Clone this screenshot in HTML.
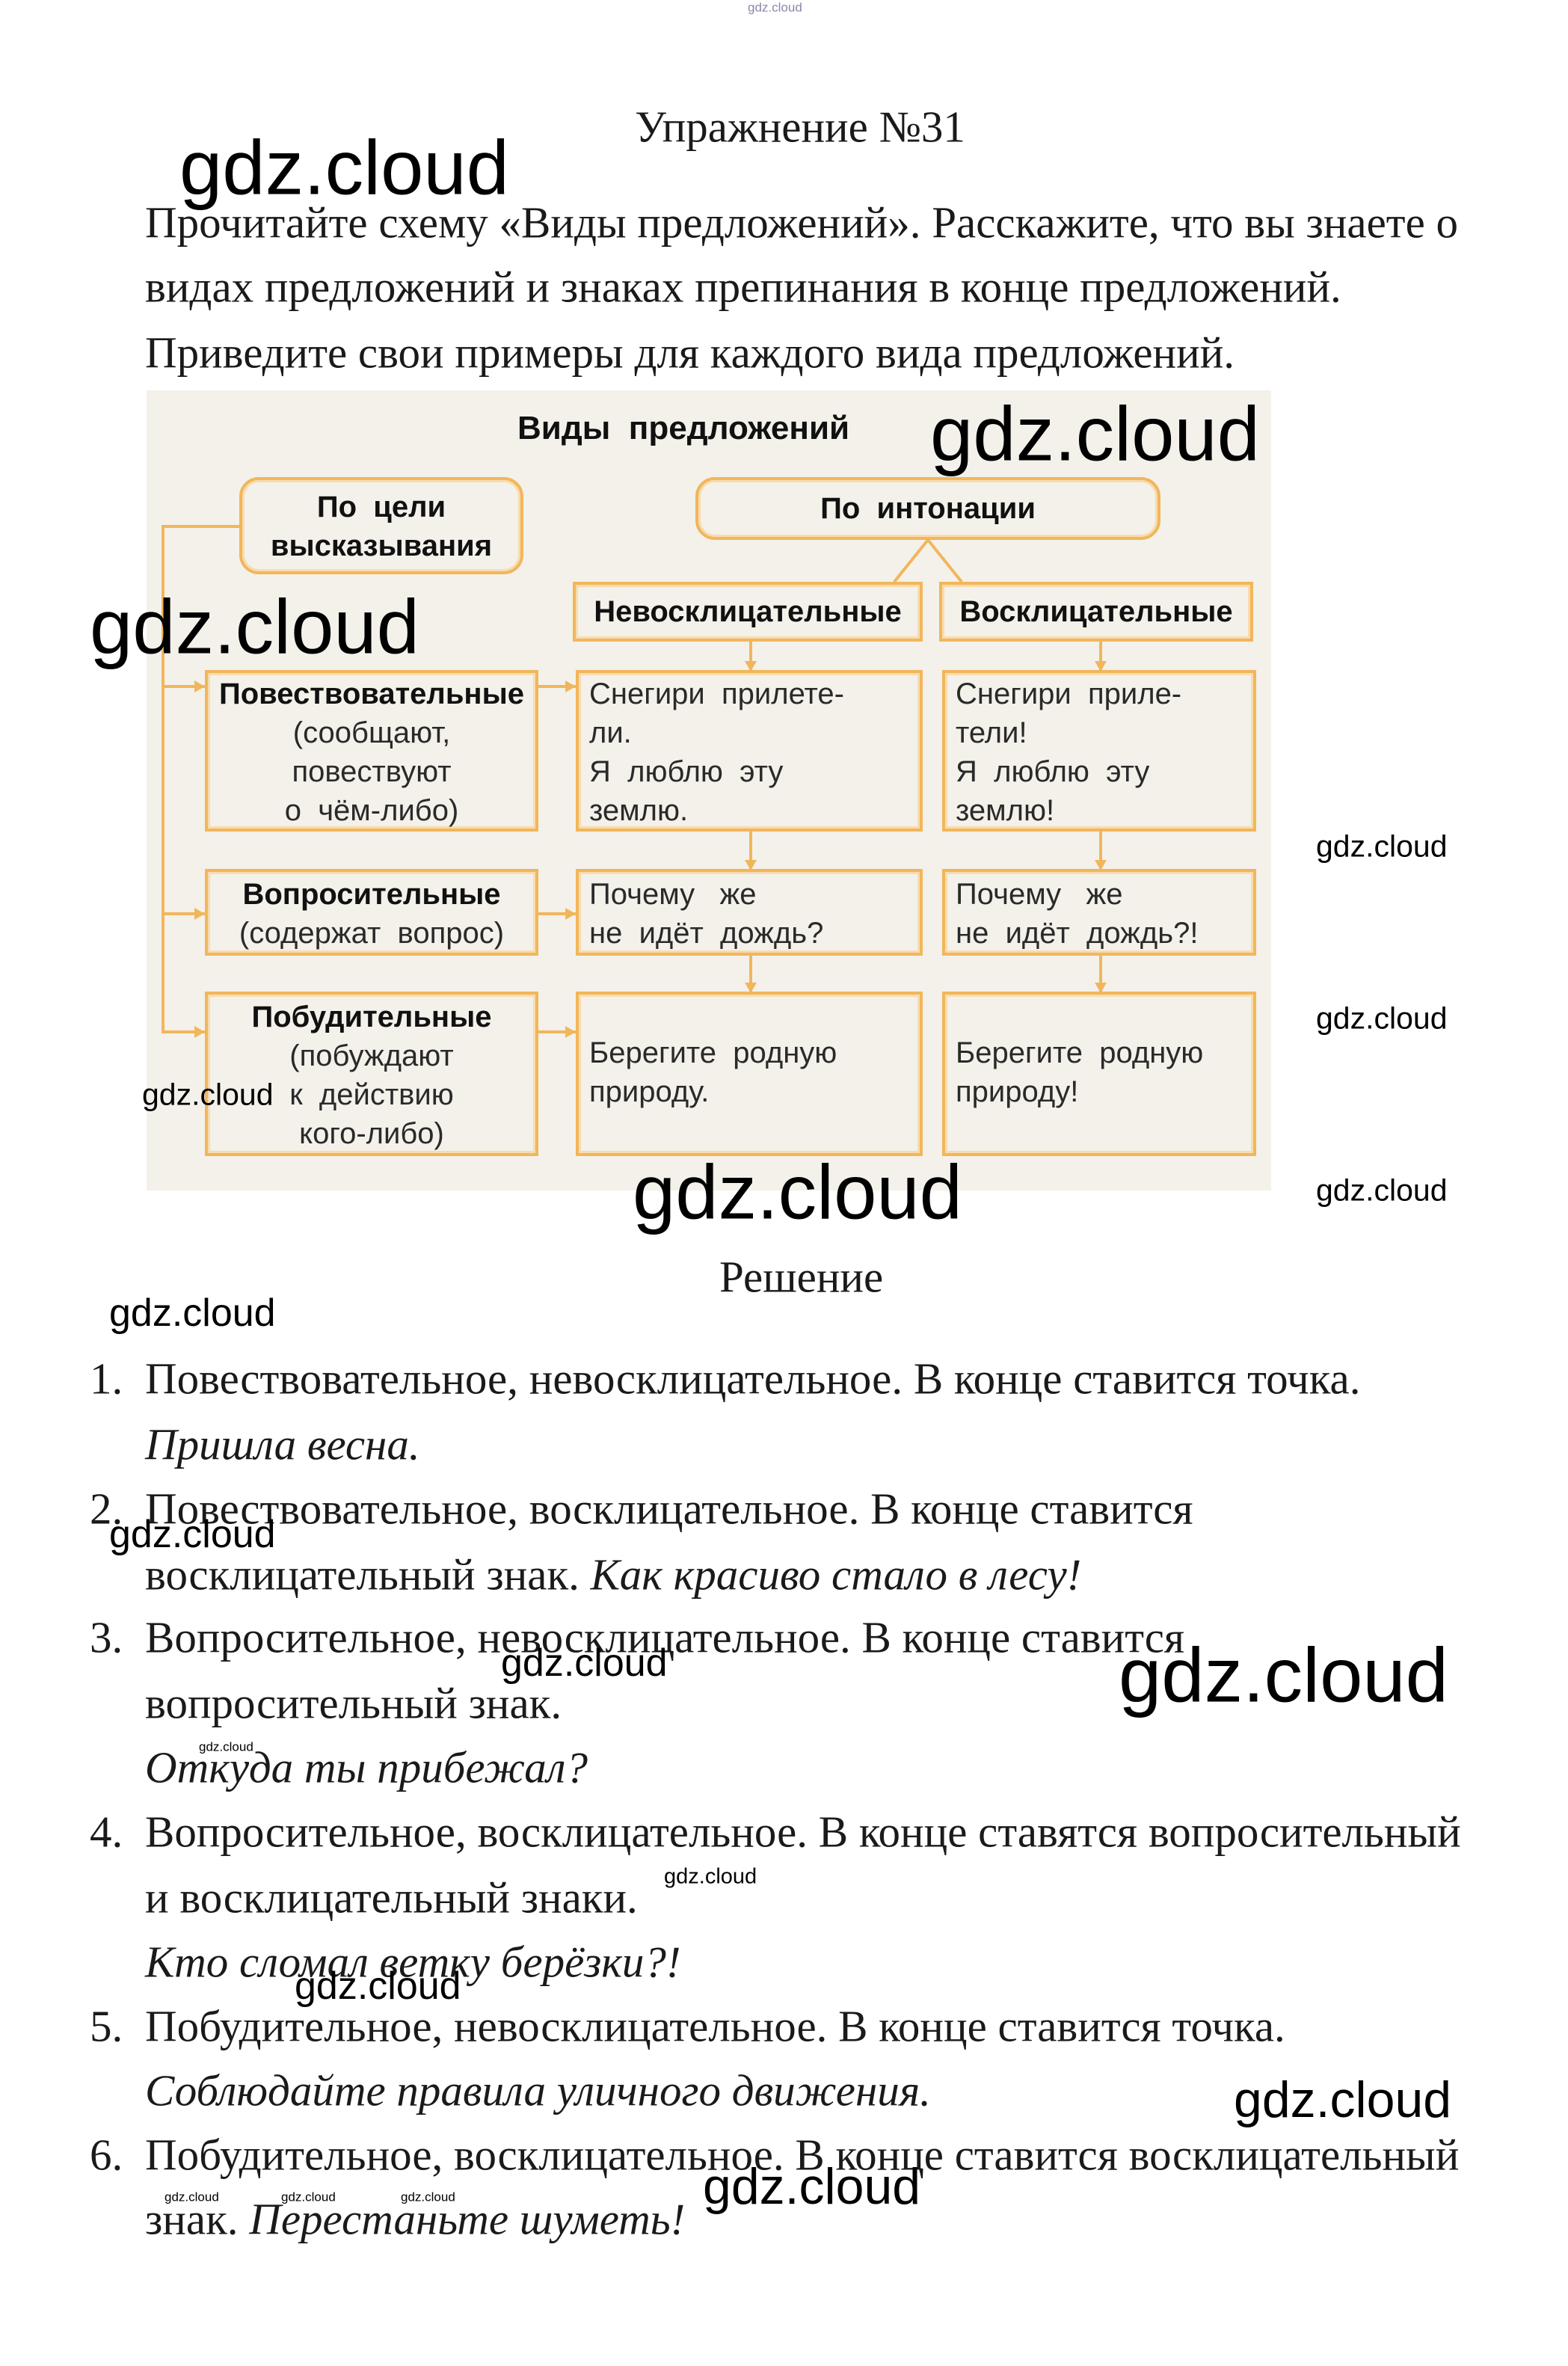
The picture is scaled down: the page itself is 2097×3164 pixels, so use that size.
<!DOCTYPE html>
<html><head><meta charset="utf-8"><style>
body{margin:0;background:#fff;}
#p{position:relative;width:2097px;height:3164px;overflow:hidden;background:#fff;font-family:"Liberation Serif","Noto Serif CJK SC",serif;color:#1a1a1a;}
.t{position:absolute;white-space:nowrap;font-size:59px;line-height:1;transform:translateY(-50%);}
.i{font-style:italic;}
.w{position:absolute;white-space:nowrap;font-family:"Liberation Sans","DejaVu Sans",sans-serif;color:#000;line-height:1;transform:translateY(-50%);}
.d{position:absolute;left:196px;top:522px;width:1504px;height:1070px;background:#f3f1ea;}
.b{position:absolute;border:4px solid #f1b65c;box-shadow:inset 0 0 0 3px #f8dcae;box-sizing:border-box;font-family:"Liberation Sans","DejaVu Sans",sans-serif;font-size:40px;line-height:52px;color:#2a2a2a;}
.r{border-radius:26px;}
.bd{font-weight:bold;color:#111;}
.c{text-align:center;}
.ln{position:absolute;background:#f1b65c;}
</style></head><body><div id="p">
<div class="w" style="left:1000px;top:10px;font-size:17px;color:#88a;">gdz.cloud</div>
<div class="t" style="left:0;width:2140px;text-align:center;top:170px;">Упражнение №31</div>
<div class="t" style="left:194px;top:298px;">Прочитайте схему «Виды предложений». Расскажите, что вы знаете о</div>
<div class="t" style="left:194px;top:384px;">видах предложений и знаках препинания в конце предложений.</div>
<div class="t" style="left:194px;top:472px;">Приведите свои примеры для каждого вида предложений.</div>

<div class="d">
<div class="bd" style="position:absolute;left:496px;top:26px;font-family:'Liberation Sans',sans-serif;font-size:44px;">Виды&nbsp; предложений</div>
<div class="ln" style="left:20px;top:180px;width:4px;height:680px;"></div>
<div class="ln" style="left:20px;top:180px;width:104px;height:4px;"></div>
<div class="ln" style="left:20px;top:394px;width:58px;height:4px;"></div>
<div class="ln" style="left:20px;top:698px;width:58px;height:4px;"></div>
<div class="ln" style="left:20px;top:856px;width:58px;height:4px;"></div>
<div class="ln" style="left:524px;top:394px;width:50px;height:4px;"></div>
<div class="ln" style="left:524px;top:698px;width:50px;height:4px;"></div>
<div class="ln" style="left:524px;top:856px;width:50px;height:4px;"></div>
<div class="ln" style="left:806px;top:336px;width:4px;height:38px;"></div>
<div class="ln" style="left:806px;top:590px;width:4px;height:50px;"></div>
<div class="ln" style="left:806px;top:756px;width:4px;height:48px;"></div>
<div class="ln" style="left:1274px;top:336px;width:4px;height:38px;"></div>
<div class="ln" style="left:1274px;top:590px;width:4px;height:50px;"></div>
<div class="ln" style="left:1274px;top:756px;width:4px;height:48px;"></div>
<svg style="position:absolute;left:0;top:0" width="1504" height="1070"><path d="M1045 200 L1000 256 M1045 200 L1090 256" stroke="#f1b65c" stroke-width="4" fill="none"/>
<g fill="#f1b65c"><path d="M800 362 L816 362 L808 376Z"/><path d="M1268 362 L1284 362 L1276 376Z"/><path d="M800 628 L816 628 L808 642Z"/><path d="M1268 628 L1284 628 L1276 642Z"/><path d="M800 792 L816 792 L808 806Z"/><path d="M1268 792 L1284 792 L1276 806Z"/>
<path d="M64 388 L78 396 L64 404Z"/><path d="M64 692 L78 700 L64 708Z"/><path d="M64 850 L78 858 L64 866Z"/><path d="M560 388 L574 396 L560 404Z"/><path d="M560 692 L574 700 L560 708Z"/><path d="M560 850 L574 858 L560 866Z"/></g></svg>
<div class="b r bd c" style="left:124px;top:116px;width:380px;height:130px;padding-top:10px;">По&nbsp; цели<br>высказывания</div>
<div class="b r bd c" style="left:734px;top:116px;width:622px;height:84px;padding-top:12px;">По&nbsp; интонации</div>
<div class="b bd c" style="left:570px;top:256px;width:468px;height:80px;padding-top:10px;">Невосклицательные</div>
<div class="b bd c" style="left:1060px;top:256px;width:420px;height:80px;padding-top:10px;">Восклицательные</div>
<div class="b c" style="left:78px;top:374px;width:446px;height:216px;padding-top:2px;"><span class="bd">Повествовательные</span><br>(сообщают,<br>повествуют<br>о&nbsp; чём-либо)</div>
<div class="b" style="left:574px;top:374px;width:464px;height:216px;padding:2px 14px;">Снегири&nbsp; прилете-<br>ли.<br>Я&nbsp; люблю&nbsp; эту<br>землю.</div>
<div class="b" style="left:1064px;top:374px;width:420px;height:216px;padding:2px 14px;">Снегири&nbsp; приле-<br>тели!<br>Я&nbsp; люблю&nbsp; эту<br>землю!</div>
<div class="b c" style="left:78px;top:640px;width:446px;height:116px;padding-top:4px;"><span class="bd">Вопросительные</span><br>(содержат&nbsp; вопрос)</div>
<div class="b" style="left:574px;top:640px;width:464px;height:116px;padding:4px 14px;">Почему&nbsp;&nbsp; же<br>не&nbsp; идёт&nbsp; дождь?</div>
<div class="b" style="left:1064px;top:640px;width:420px;height:116px;padding:4px 14px;">Почему&nbsp;&nbsp; же<br>не&nbsp; идёт&nbsp; дождь?!</div>
<div class="b c" style="left:78px;top:804px;width:446px;height:220px;padding-top:4px;"><span class="bd">Побудительные</span><br>(побуждают<br>к&nbsp; действию<br>кого-либо)</div>
<div class="b" style="left:574px;top:804px;width:464px;height:220px;padding:52px 14px;">Берегите&nbsp; родную<br>природу.</div>
<div class="b" style="left:1064px;top:804px;width:420px;height:220px;padding:52px 14px;">Берегите&nbsp; родную<br>природу!</div>
</div>

<div class="t" style="left:962px;top:1708px;">Решение</div>
<div class="t" style="left:120px;top:1844px;">1.</div>
<div class="t" style="left:194px;top:1844px;">Повествовательное, невосклицательное. В конце ставится точка.</div>
<div class="t i" style="left:194px;top:1932px;">Пришла весна.</div>
<div class="t" style="left:120px;top:2018px;">2.</div>
<div class="t" style="left:194px;top:2018px;">Повествовательное, восклицательное. В конце ставится</div>
<div class="t" style="left:194px;top:2106px;">восклицательный знак. <i>Как красиво стало в лесу!</i></div>
<div class="t" style="left:120px;top:2190px;">3.</div>
<div class="t" style="left:194px;top:2190px;">Вопросительное, невосклицательное. В конце ставится</div>
<div class="t" style="left:194px;top:2278px;">вопросительный знак.</div>
<div class="t i" style="left:194px;top:2364px;">Откуда ты прибежал?</div>
<div class="t" style="left:120px;top:2450px;">4.</div>
<div class="t" style="left:194px;top:2450px;">Вопросительное, восклицательное. В конце ставятся вопросительный</div>
<div class="t" style="left:194px;top:2538px;">и восклицательный знаки.</div>
<div class="t i" style="left:194px;top:2624px;">Кто сломал ветку берёзки?!</div>
<div class="t" style="left:120px;top:2710px;">5.</div>
<div class="t" style="left:194px;top:2710px;">Побудительное, невосклицательное. В конце ставится точка.</div>
<div class="t i" style="left:194px;top:2796px;">Соблюдайте правила уличного движения.</div>
<div class="t" style="left:120px;top:2882px;">6.</div>
<div class="t" style="left:194px;top:2882px;">Побудительное, восклицательное. В конце ставится восклицательный</div>
<div class="t" style="left:194px;top:2968px;">знак. <i>Перестаньте шуметь!</i></div>

<div class="w" style="left:240px;top:224px;font-size:103px;">gdz.cloud</div>
<div class="w" style="left:1244px;top:580px;font-size:103px;">gdz.cloud</div>
<div class="w" style="left:120px;top:838px;font-size:103px;">gdz.cloud</div>
<div class="w" style="left:1760px;top:1132px;font-size:41px;">gdz.cloud</div>
<div class="w" style="left:1760px;top:1362px;font-size:41px;">gdz.cloud</div>
<div class="w" style="left:1760px;top:1592px;font-size:41px;">gdz.cloud</div>
<div class="w" style="left:190px;top:1464px;font-size:41px;">gdz.cloud</div>
<div class="w" style="left:846px;top:1594px;font-size:103px;">gdz.cloud</div>
<div class="w" style="left:146px;top:1756px;font-size:52px;">gdz.cloud</div>
<div class="w" style="left:146px;top:2052px;font-size:52px;">gdz.cloud</div>
<div class="w" style="left:670px;top:2224px;font-size:52px;">gdz.cloud</div>
<div class="w" style="left:1496px;top:2240px;font-size:103px;">gdz.cloud</div>
<div class="w" style="left:266px;top:2336px;font-size:17px;">gdz.cloud</div>
<div class="w" style="left:888px;top:2510px;font-size:29px;">gdz.cloud</div>
<div class="w" style="left:394px;top:2656px;font-size:52px;">gdz.cloud</div>
<div class="w" style="left:1650px;top:2808px;font-size:68px;">gdz.cloud</div>
<div class="w" style="left:940px;top:2924px;font-size:68px;">gdz.cloud</div>
<div class="w" style="left:220px;top:2938px;font-size:17px;">gdz.cloud</div>
<div class="w" style="left:376px;top:2938px;font-size:17px;">gdz.cloud</div>
<div class="w" style="left:536px;top:2938px;font-size:17px;">gdz.cloud</div>
</div></body></html>
